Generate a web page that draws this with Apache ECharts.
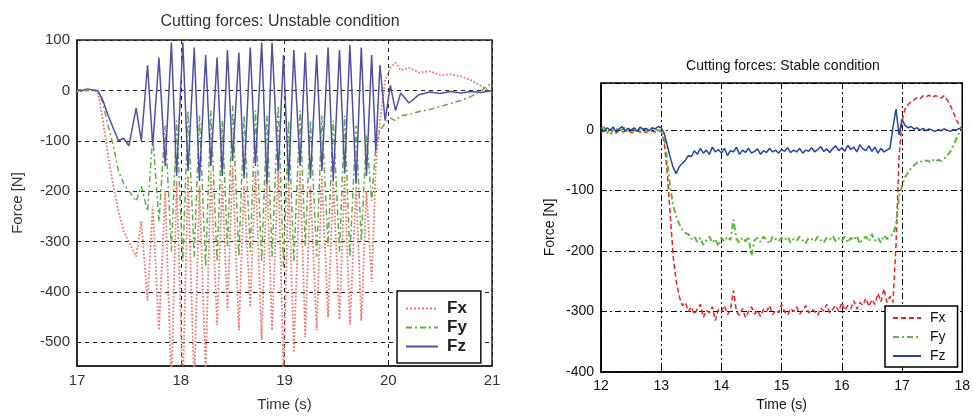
<!DOCTYPE html>
<html><head><meta charset="utf-8">
<script src="https://cdn.jsdelivr.net/npm/echarts@6/dist/echarts.min.js"></script>
<style>html,body{margin:0;padding:0;background:#fff}#c{width:973px;height:417px}</style>
</head><body><div id="c"></div>
<script>
// ---------- Left chart: unstable condition ----------
const unstableTime = [
  17.00,17.05,17.10,17.15,17.20,17.25,17.30,17.35,17.40,17.45,17.50,17.57,17.62,
  17.68,17.73,17.79,17.85,17.91,17.96,
  18.02,18.07,18.13,18.18,18.24,18.29,
  18.35,18.40,18.45,18.50,18.56,18.61,
  18.67,18.72,18.78,18.83,18.88,18.94,
  18.99,19.04,19.09,19.15,19.20,19.25,
  19.31,19.36,19.42,19.47,19.53,19.58,
  19.63,19.69,19.74,19.79,19.84,19.88,
  19.92,19.97,20.02,20.07,20.12,20.20,20.30,20.40,20.50,20.60,20.70,20.80,20.90,21.00
];
const unstableFx = [
  -2,0,-1,0,-3,-60,-130,-190,-240,-280,-300,-330,-260,
  -417,-230,-476,-200,-590,-180,
  -590,-170,-590,-190,-560,-160,
  -466,-180,-437,-150,-476,-190,
  -430,-160,-495,-170,-476,-150,
  -560,-180,-520,-160,-490,-190,
  -476,-170,-450,-180,-455,-170,
  -465,-190,-457,-200,-380,-150,
  -60,20,45,55,40,45,35,38,30,32,28,20,8,-5
];
const unstableFy = [
  0,-2,0,1,-2,-25,-70,-110,-160,-185,-200,-220,-190,
  -240,-90,-260,-70,-320,-60,
  -340,-40,-330,-50,-350,-40,
  -340,-60,-310,-30,-330,-50,
  -320,-40,-340,-50,-330,-30,
  -350,-60,-340,-40,-310,-60,
  -330,-50,-310,-60,-320,-50,
  -330,-70,-300,-90,-220,-110,
  -80,-65,-55,-60,-50,-48,-42,-38,-32,-26,-20,-12,0,15
];
const unstableFz = [
  2,0,3,1,0,-20,-50,-75,-100,-95,-110,-35,-100,
  50,-110,65,-150,95,-170,
  95,-160,85,-180,70,-150,
  65,-170,80,-140,75,-175,
  85,-150,95,-185,95,-160,
  70,-180,80,-150,75,-175,
  70,-160,85,-180,80,-165,
  90,-185,85,-170,70,-120,
  50,-60,10,-40,-5,-25,-8,-3,-6,-2,-5,-2,-4,0
];
const unstableXTicks = [17,18,19,20,21];
const unstableYTicks = [-500,-400,-300,-200,-100,0,100];
const unstableYMin = -547;

// ---------- Right chart: stable condition ----------
const stableTime = [
  12.00,12.05,12.10,12.15,12.20,12.25,12.30,12.35,12.40,12.45,
  12.50,12.55,12.60,12.65,12.70,12.75,12.80,12.85,12.90,12.95,
  13.00,13.05,13.10,13.15,13.20,13.25,13.30,13.35,13.40,13.45,
  13.50,13.55,13.60,13.65,13.70,13.75,13.80,13.85,13.90,13.95,
  14.00,14.05,14.10,14.15,14.20,14.25,14.30,14.35,14.40,14.45,
  14.50,14.55,14.60,14.65,14.70,14.75,14.80,14.85,14.90,14.95,
  15.00,15.05,15.10,15.15,15.20,15.25,15.30,15.35,15.40,15.45,
  15.50,15.55,15.60,15.65,15.70,15.75,15.80,15.85,15.90,15.95,
  16.00,16.05,16.10,16.15,16.20,16.25,16.30,16.35,16.40,16.45,
  16.50,16.55,16.60,16.65,16.70,16.75,16.80,16.85,16.90,16.95,
  17.00,17.05,17.10,17.15,17.20,17.25,17.30,17.35,17.40,17.45,
  17.50,17.55,17.60,17.65,17.70,17.75,17.80,17.85,17.90,17.95,
  18.00
];
const stableFx = [
  -4,-1,-3,0,-2,-5,-1,-3,-2,0,
  -4,-2,-1,-3,-2,-4,0,-2,-3,-1,
  -2,-20,-70,-140,-210,-250,-275,-290,-285,-300,
  -292,-305,-296,-288,-310,-298,-302,-292,-315,-296,
  -300,-290,-305,-298,-265,-300,-306,-295,-310,-300,
  -292,-304,-298,-308,-296,-300,-290,-305,-298,-302,
  -288,-300,-306,-295,-300,-292,-304,-298,-290,-302,
  -296,-300,-306,-294,-299,-288,-302,-296,-290,-300,
  -285,-298,-290,-295,-282,-296,-285,-290,-278,-292,
  -280,-288,-270,-284,-262,-285,-275,-285,-190,-45,
  15,35,42,48,50,54,52,57,55,58,
  54,57,56,53,57,50,42,30,18,8,
  2
];
const stableFy = [
  2,5,-3,-8,0,3,-2,1,4,-1,
  0,2,-3,1,3,0,-2,2,1,0,
  0,-10,-50,-95,-125,-143,-155,-165,-170,-172,
  -180,-176,-185,-178,-190,-182,-176,-186,-180,-192,
  -178,-184,-176,-182,-148,-180,-186,-178,-184,-176,
  -208,-182,-178,-185,-176,-182,-188,-176,-180,-184,
  -178,-182,-176,-186,-180,-183,-176,-182,-187,-178,
  -180,-184,-176,-182,-186,-178,-181,-175,-184,-179,
  -183,-176,-186,-178,-182,-175,-188,-180,-176,-184,
  -172,-183,-178,-186,-174,-180,-176,-172,-157,-110,
  -92,-78,-70,-63,-58,-54,-51,-53,-50,-52,
  -48,-52,-49,-51,-47,-42,-36,-26,-15,-4,
  2
];
const stableFz = [
  3,-2,4,0,5,-3,2,6,-1,3,
  0,4,-2,5,1,3,-1,4,2,6,
  4,-5,-25,-45,-62,-72,-60,-55,-50,-42,
  -44,-34,-40,-30,-38,-33,-40,-28,-36,-32,
  -38,-30,-42,-34,-36,-28,-40,-33,-37,-30,
  -38,-35,-31,-40,-34,-37,-30,-36,-33,-38,
  -32,-35,-29,-37,-33,-36,-30,-38,-33,-35,
  -29,-36,-32,-27,-35,-31,-37,-30,-26,-34,
  -29,-35,-25,-32,-28,-36,-24,-31,-34,-26,
  -35,-28,-38,-30,-36,-33,-30,5,35,-8,
  18,8,4,6,2,4,0,3,-1,2,
  0,-2,1,-1,2,0,-2,1,0,3,
  0
];
const stableXTicks = [12,13,14,15,16,17,18];
const stableYTicks = [-400,-300,-200,-100,0];
const stableYMax = 78;

const seriesNames = ['Fx','Fy','Fz'];
const rightNames = ['Fx ','Fy ','Fz '];

function pairs(t, v){ return t.map((x,i)=>[x, v[i]]); }

const FONT = 'Liberation Sans, Arial, sans-serif';
const chart = echarts.init(document.getElementById('c'));

const leftLine = {type:[4,4], color:'#222', width:1};
const rightLine = {type:[6,3,2,3], color:'#000', width:1};

chart.setOption({
  animation:false,
  backgroundColor:'#fff',
  textStyle:{fontFamily:FONT},
  graphic:[
    {type:'text', x:280, y:22, style:{text:'Cutting forces: Unstable condition', fill:'#333', font:'16px '+FONT, align:'center', verticalAlign:'middle'}},
    {type:'text', x:783, y:66, style:{text:'Cutting forces: Stable condition', fill:'#111', font:'14px '+FONT, align:'center', verticalAlign:'middle'}}
  ],
  grid:[
    {left:77, top:40, width:415, height:328, show:true, borderColor:'#222', borderWidth:1.5, backgroundColor:'#fff'},
    {left:601, top:83, width:368, height:291, show:true, borderColor:'#000', borderWidth:1.5, backgroundColor:'#fff'}
  ],
  xAxis:[
    {gridIndex:0, type:'value', min:unstableXTicks[0], max:unstableXTicks[unstableXTicks.length-1], interval:1,
     axisLine:{show:true, onZero:false, lineStyle:{color:'#222', width:1.5}},
     axisTick:{inside:true, length:4, lineStyle:{color:'#222'}},
     axisLabel:{fontSize:15, color:'#333', margin:7},
     splitLine:{show:true, lineStyle:leftLine},
     name:'Time (s)', nameLocation:'middle', nameGap:31, nameTextStyle:{fontSize:15, color:'#333'}},
    {gridIndex:1, type:'value', min:stableXTicks[0], max:stableXTicks[stableXTicks.length-1], interval:1,
     axisLine:{show:true, onZero:false, lineStyle:{color:'#000', width:1.5}},
     axisTick:{inside:true, length:4, lineStyle:{color:'#000'}},
     axisLabel:{fontSize:14, color:'#111', margin:7},
     splitLine:{show:true, lineStyle:rightLine},
     name:'Time (s)', nameLocation:'middle', nameGap:26, nameTextStyle:{fontSize:14, color:'#111'}}
  ],
  yAxis:[
    {gridIndex:0, type:'value', min:unstableYMin, max:unstableYTicks[unstableYTicks.length-1], splitNumber:6,
     axisLine:{show:true, onZero:false, lineStyle:{color:'#222', width:1.5}},
     axisTick:{inside:true, length:4, lineStyle:{color:'#222'}},
     axisLabel:{fontSize:15, color:'#333', margin:7, formatter:v=>unstableYTicks.includes(v)?String(v):''},
     splitLine:{show:true, lineStyle:leftLine},
     name:'Force [N]', nameLocation:'middle', nameGap:52, nameTextStyle:{fontSize:15, color:'#333'}},
    {gridIndex:1, type:'value', min:stableYTicks[0], max:stableYMax, splitNumber:5,
     axisLine:{show:true, onZero:false, lineStyle:{color:'#000', width:1.5}},
     axisTick:{inside:true, length:4, lineStyle:{color:'#000'}},
     axisLabel:{fontSize:14, color:'#111', margin:7, formatter:v=>stableYTicks.includes(v)?String(v):''},
     splitLine:{show:true, lineStyle:rightLine},
     name:'Force [N]', nameLocation:'middle', nameGap:44, nameTextStyle:{fontSize:14, color:'#111'}}
  ],
  legend:[
    {data:seriesNames, orient:'vertical', left:397, top:291, itemWidth:32, itemHeight:14, itemGap:2,
     padding:[9,14,8,8], borderColor:'#111', borderWidth:1.5, backgroundColor:'#fff', selectedMode:false,
     itemStyle:{opacity:0},
     textStyle:{fontSize:17, fontWeight:'bold', color:'#222', padding:[0,0,0,4]}},
    {data:rightNames, orient:'vertical', left:885, top:306, itemWidth:28, itemHeight:14, itemGap:5,
     padding:[5,12,4,7], borderColor:'#000', borderWidth:1.5, backgroundColor:'#fff', selectedMode:false,
     itemStyle:{opacity:0},
     formatter:n=>n.trim(), textStyle:{fontSize:14, color:'#111', padding:[0,0,0,4]}}
  ],
  series:[
    {name:'Fx', type:'line', xAxisIndex:0, yAxisIndex:0, symbol:'none', data:pairs(unstableTime, unstableFx),
     lineStyle:{color:'#ee7a72', width:1.8, type:'dotted'}, itemStyle:{color:'#ee7a72'}},
    {name:'Fy', type:'line', xAxisIndex:0, yAxisIndex:0, symbol:'none', data:pairs(unstableTime, unstableFy),
     lineStyle:{color:'#5fae45', width:1.5, type:[6,3,2,3]}, itemStyle:{color:'#5fae45'}},
    {name:'Fz', type:'line', xAxisIndex:0, yAxisIndex:0, symbol:'none', data:pairs(unstableTime, unstableFz),
     lineStyle:{color:'#4f4fa6', width:1.5}, itemStyle:{color:'#4f4fa6'}},
    {name:'Fx ', type:'line', xAxisIndex:1, yAxisIndex:1, symbol:'none', data:pairs(stableTime, stableFx),
     lineStyle:{color:'#ee2222', width:1.5, type:[5,3]}, itemStyle:{color:'#ee2222'}},
    {name:'Fy ', type:'line', xAxisIndex:1, yAxisIndex:1, symbol:'none', data:pairs(stableTime, stableFy),
     lineStyle:{color:'#5cb83c', width:2, type:[6,3,2,3]}, itemStyle:{color:'#5cb83c'}},
    {name:'Fz ', type:'line', xAxisIndex:1, yAxisIndex:1, symbol:'none', data:pairs(stableTime, stableFz),
     lineStyle:{color:'#2244aa', width:1.5}, itemStyle:{color:'#2244aa'}}
  ]
});
</script>
</body></html>
